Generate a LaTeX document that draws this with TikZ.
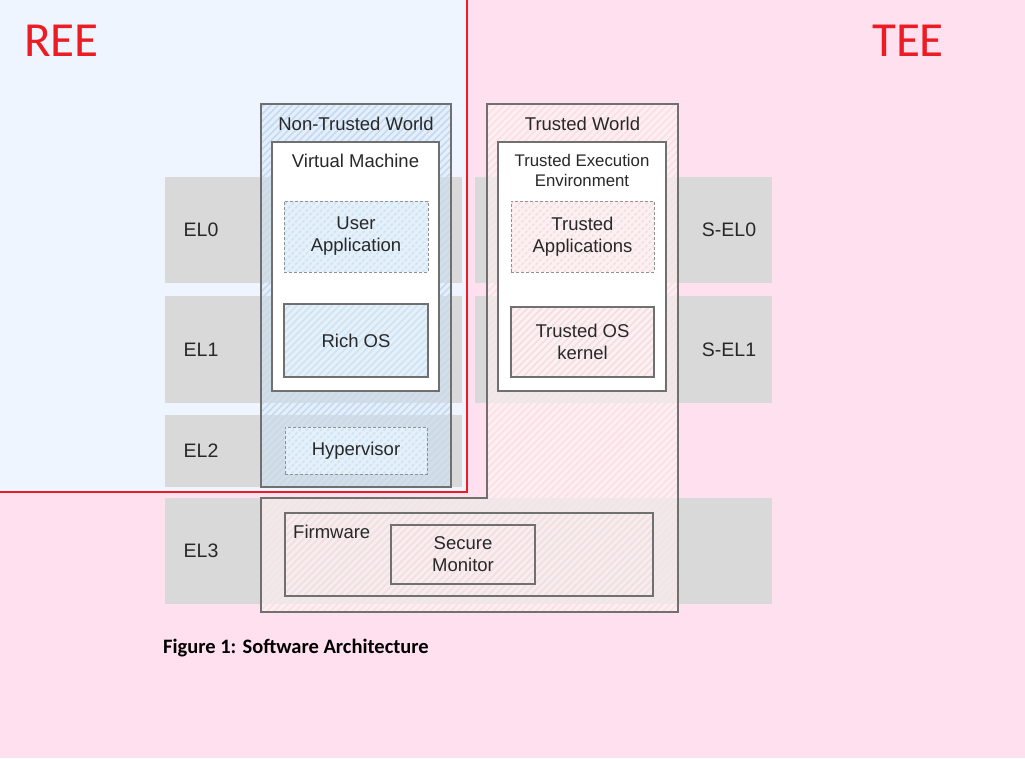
\documentclass[tikz,border=0pt]{standalone}
\usepackage{fontspec}
\setmainfont{Liberation Sans}
\newfontfamily\calfont{Carlito}
\usetikzlibrary{positioning,patterns.meta}

\definecolor{pinkbg}{RGB}{255,224,238}
\definecolor{reeblue}{RGB}{239,245,255}
\definecolor{reered}{RGB}{236,28,36}
\definecolor{bandgray}{RGB}{217,217,217}
\definecolor{boxgray}{RGB}{112,112,112}
\definecolor{dashgray}{RGB}{145,145,145}
\definecolor{txtgray}{RGB}{40,40,40}
\definecolor{ntbase}{RGB}{228,240,250}
\definecolor{ntline}{RGB}{208,227,243}
\definecolor{twbase}{RGB}{253,240,240}
\definecolor{twline}{RGB}{243,222,226}
\definecolor{ntwbase}{RGB}{210,229,246}
\definecolor{ntwline}{RGB}{196,218,240}
\definecolor{twwbase}{RGB}{255,246,246}
\definecolor{twwline}{RGB}{246,226,229}

\tikzset{
  band/.style={rectangle, fill=bandgray, inner sep=0pt, outer sep=0pt, anchor=north west},
  lvl/.style={text=txtgray, font=\fontsize{19.5}{22}\selectfont},
  title/.style={text=txtgray, font=\fontsize{18.5}{20}\selectfont, anchor=base, inner sep=0pt, align=center},
  frame/.style={draw=boxgray, line width=1.4pt},
  hostbox/.style={frame, rectangle, fill=white, inner sep=0pt, outer sep=0pt, anchor=north west},
  part/.style={rectangle, draw=boxgray, line width=1.2pt, inner sep=0pt, outer sep=0pt, align=center, text=txtgray, font=\fontsize{18.5}{22}\selectfont},
  soft/.style={part, draw=dashgray, line width=0.9pt, dash pattern=on 3pt off 2pt},
  bluehatch/.style={preaction={fill=ntbase}, pattern={Lines[angle=45,distance=5pt,line width=1.6pt]}, pattern color=ntline},
  pinkhatch/.style={preaction={fill=twbase}, pattern={Lines[angle=45,distance=5pt,line width=1.6pt]}, pattern color=twline},
  glasspink/.style={preaction={fill=twbase, fill opacity=0.5}, pattern={Lines[angle=45,distance=5pt,line width=1.6pt]}, pattern color=twline, fill opacity=0.5, text opacity=1},
  ntworld/.style={frame, preaction={fill=ntwbase, fill opacity=0.35}, pattern={Lines[angle=45,distance=5pt,line width=1.6pt]}, pattern color=ntwline, fill opacity=0.35},
  tworld/.style={frame, preaction={fill=twwbase, fill opacity=0.6}, pattern={Lines[angle=45,distance=5pt,line width=1.6pt]}, pattern color=twwline, fill opacity=0.6},
  zone/.style={text=reered, font=\calfont\fontsize{49}{52}\selectfont, anchor=base west, inner sep=0pt}
}

\begin{document}
\begin{tikzpicture}[x=1pt, y=-1pt]
  \useasboundingbox (0,0) rectangle (1025,758);
  \fill[pinkbg] (0,0) rectangle (1025,758);
  \fill[reeblue] (0,0) rectangle (467,492);
  \draw[reered, line width=1.3pt] (0,492) -- (467,492) -- (467,0);

  \node[zone] (ree) at (24,56) {REE};
  \node[zone] (tee) at (872,56) {TEE};

  % exception levels
  \node[band, minimum width=297pt, minimum height=106pt] (el0) at (165,177) {};
  \node[band, minimum width=297pt, minimum height=107pt] (el1) at (165,296) {};
  \node[band, minimum width=297pt, minimum height=72pt] (el2) at (165,415) {};
  \node[band, minimum width=607pt, minimum height=106pt] (el3) at (165,498) {};
  \node[band, minimum width=297pt, minimum height=106pt] (sel0) at (475,177) {};
  \node[band, minimum width=297pt, minimum height=107pt] (sel1) at (475,296) {};

  \node[lvl] (el0t) at ([xshift=36pt]el0.west) {EL0};
  \node[lvl] (el1t) at ([xshift=36pt]el1.west) {EL1};
  \node[lvl] (el2t) at ([xshift=36pt]el2.west) {EL2};
  \node[lvl] (el3t) at ([xshift=36pt]el3.west) {EL3};
  \node[lvl] (sel0t) at ([xshift=-43pt]sel0.east) {S-EL0};
  \node[lvl] (sel1t) at ([xshift=-43pt]sel1.east) {S-EL1};

  % worlds
  \path[ntworld] (261,104) rectangle (451,487);
  \path[tworld] (487,104) -- (678,104) -- (678,612) -- (261,612) -- (261,498) -- (487,498) -- cycle;
  \node[title] (ntwt) at (356,130) {Non-Trusted World};
  \node[title] (twt) at (582.5,130) {Trusted World};

  % normal world
  \node[hostbox, minimum width=167pt, minimum height=249pt] (vm) at (272,142) {};
  \node[title] (vmt) at ([yshift=-25pt]vm.north) {Virtual Machine};
  \node[soft, bluehatch, minimum width=144pt, minimum height=71pt] (uapp) at (356,236.5) {User\\Application};
  \node[part, bluehatch, minimum width=144pt, minimum height=73pt, below=32pt of uapp] (ros) {Rich OS};
  \node[soft, bluehatch, minimum width=142pt, minimum height=47pt] (hyp) at (356,450.5) {Hypervisor};

  % secure world
  \node[hostbox, minimum width=168pt, minimum height=249pt] (teebox) at (498,142) {};
  \node[title, font=\fontsize{16.8}{20}\selectfont] (teet) at ([yshift=-44pt]teebox.north) {Trusted Execution\\Environment};
  \node[soft, pinkhatch, minimum width=143pt, minimum height=71pt] (tapp) at (582.5,236.5) {Trusted\\Applications};
  \node[part, pinkhatch, minimum width=143pt, minimum height=70pt, below=35pt of tapp] (tos) {Trusted OS\\kernel};

  % monitor level
  \node[part, glasspink, minimum width=368pt, minimum height=83pt] (fw) at (469,554.5) {};
  \node[title, anchor=base west] (fwt) at (293,538) {Firmware};
  \node[part, glasspink, minimum width=144pt, minimum height=59pt] (smon) at (463,554.5) {Secure\\Monitor};

  \node[anchor=base west, inner sep=0pt, font=\calfont\bfseries\fontsize{20.5}{24}\selectfont] (cap) at (163,653) {Figure 1: Software Architecture};
\end{tikzpicture}
\end{document}
